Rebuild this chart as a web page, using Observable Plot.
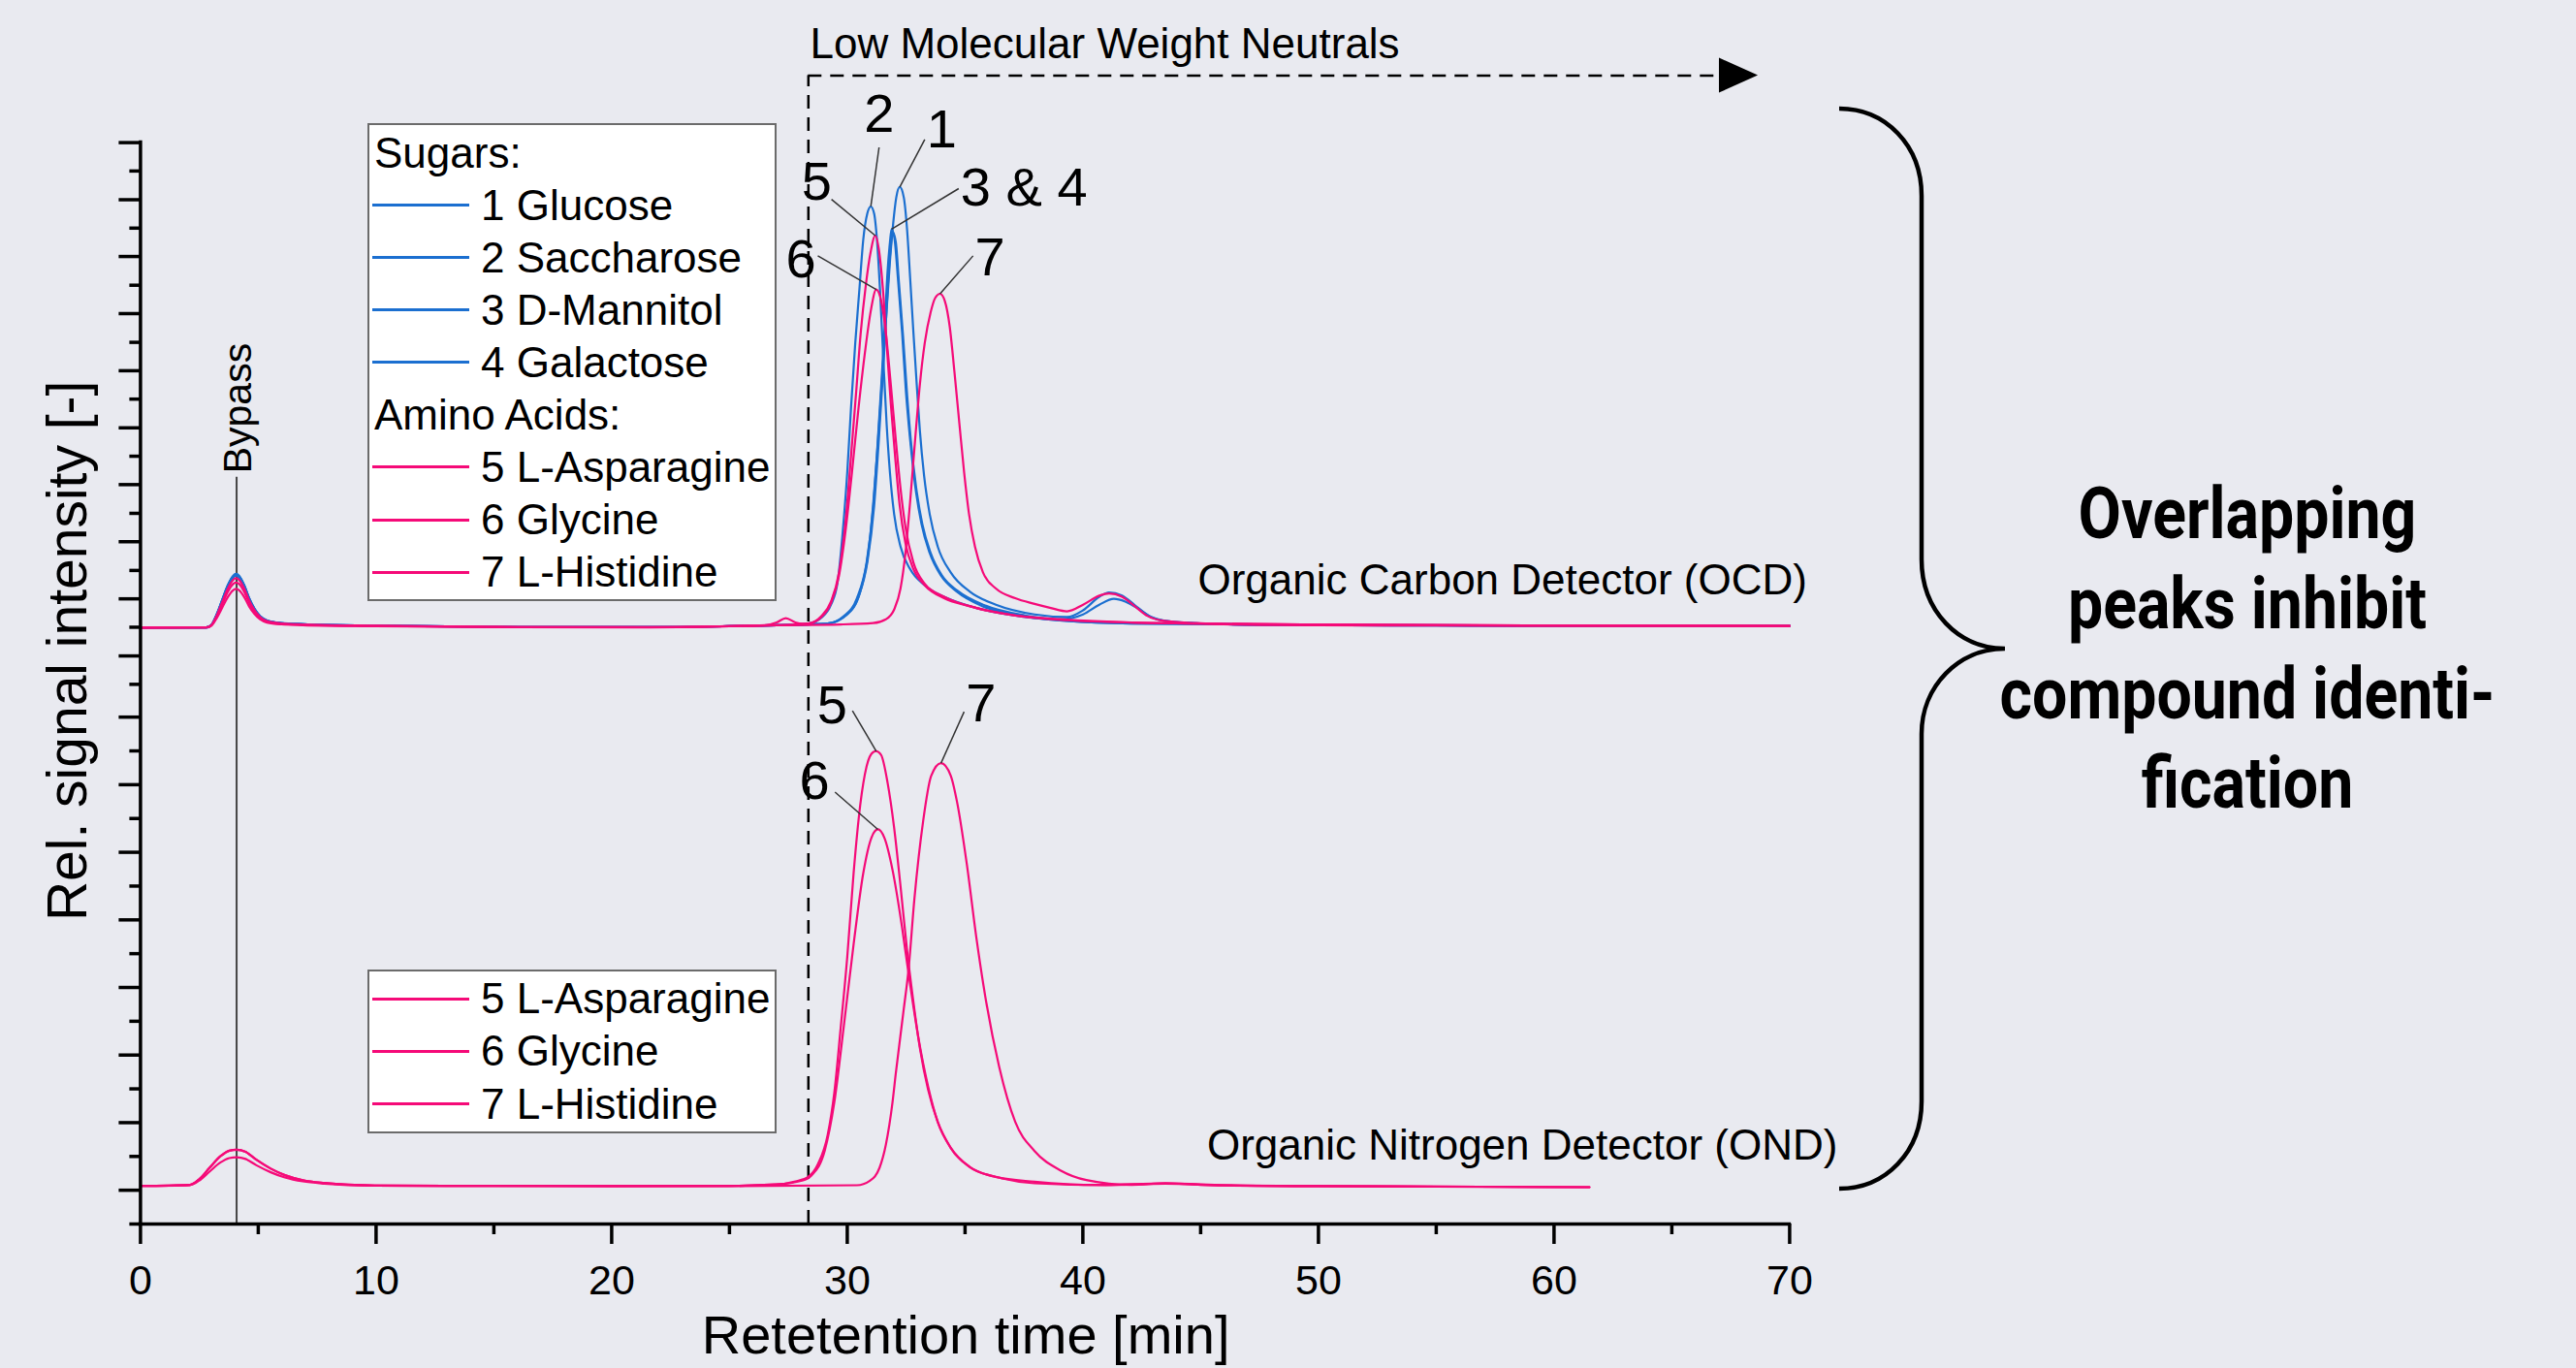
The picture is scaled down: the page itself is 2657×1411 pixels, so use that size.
<!DOCTYPE html>
<html>
<head>
<meta charset="utf-8">
<script src="https://cdn.jsdelivr.net/npm/d3@7"></script>
<script src="https://cdn.jsdelivr.net/npm/@observablehq/plot@0.6"></script>
<style>
html, body { margin: 0; padding: 0; background: #e9eaf0; overflow: hidden; }
#wrap { position: relative; width: 2657px; height: 1411px; font-family: "Liberation Sans", Arial, sans-serif; }
#wrap > svg { position: absolute; left: 0; top: 0; }
.legend { position: absolute; background: #fff; border: 2px solid #6b6b6b; box-sizing: border-box; }
.row { position: absolute; height: 54px; line-height: 54px; font-size: 44px; color: #000; white-space: nowrap; }
.swatch { position: absolute; width: 100px; height: 3px; }
#note { position: absolute; left: 2018px; width: 600px; top: 484px; text-align: center;
  font-family: Roboto, "Noto Sans", sans-serif; font-weight: 700; font-size: 74px; line-height: 92.8px;
  color: #000; transform: scaleX(0.87); transform-origin: 300px 0; }
</style>
</head>
<body>
<div id="wrap"></div>
<script>
// ---------- data (retention time [min], relative signal) ----------
const sugarColor = "#1b6fd0";
const aminoColor = "#f50a78";

const ocdGlucose = [[0,17.645],[2.79,17.653],[3.01,17.727],[3.24,18.046],[3.47,18.471],[3.70,18.895],[3.93,19.182],[4.05,19.237],[4.19,19.182],[4.41,18.895],[4.61,18.525],[4.84,18.207],[5.07,17.994],[5.37,17.857],[5.98,17.782],[6.89,17.750],[9.94,17.708],[16.03,17.665],[21.63,17.66],[25,17.69],[27,17.72],[29.17,17.771],[30.00,18.039],[30.55,18.708],[30.89,19.856],[31.10,21.291],[31.26,22.726],[31.40,24.160],[31.53,25.595],[31.67,27.030],[31.81,28.465],[31.95,29.612],[32.08,30.378],[32.23,30.684],[32.40,30.378],[32.54,29.421],[32.67,27.986],[32.81,26.360],[32.95,24.830],[33.08,23.491],[33.26,22.152],[33.50,21.004],[33.84,20.048],[34.39,19.283],[35.21,18.708],[36.31,18.326],[37.95,18.039],[39.33,17.962],[40.01,18.16],[40.70,18.56],[41.11,18.69],[41.66,18.60],[42.21,18.31],[42.75,18.02],[43.44,17.86],[44.81,17.78],[47.56,17.73],[55,17.71],[62,17.70],[70,17.70]];
const ocdSaccharose = [[0,17.645],[2.79,17.653],[3.01,17.725],[3.24,18.038],[3.47,18.455],[3.70,18.870],[3.93,19.151],[4.05,19.205],[4.19,19.151],[4.41,18.870],[4.61,18.508],[4.84,18.196],[5.07,17.987],[5.37,17.853],[5.98,17.779],[6.89,17.748],[9.94,17.707],[16.03,17.665],[21.63,17.66],[25,17.69],[27,17.72],[28.35,17.771],[28.90,17.943],[29.31,18.326],[29.59,18.995],[29.79,20.334],[30.00,22.248],[30.16,24.160],[30.34,26.073],[30.52,27.699],[30.68,29.134],[30.85,29.899],[31.00,30.110],[31.14,29.899],[31.26,29.134],[31.40,27.508],[31.53,25.595],[31.67,23.682],[31.81,22.248],[31.99,21.004],[32.26,20.048],[32.67,19.378],[33.29,18.900],[34.25,18.517],[35.48,18.230],[37.27,17.991],[39.33,17.848],[42.07,17.771],[50,17.73],[60,17.71],[70,17.70]];
const ocdMannitol = [[0,17.645],[2.79,17.653],[3.01,17.725],[3.24,18.034],[3.47,18.446],[3.70,18.858],[3.93,19.136],[4.05,19.189],[4.19,19.136],[4.41,18.858],[4.61,18.499],[4.84,18.190],[5.07,17.984],[5.37,17.851],[5.98,17.778],[6.89,17.747],[9.94,17.706],[16.03,17.665],[21.63,17.66],[25,17.69],[27,17.72],[29.17,17.771],[29.86,17.991],[30.41,18.517],[30.82,19.569],[31.10,21.195],[31.30,23.204],[31.47,25.117],[31.60,26.743],[31.71,28.178],[31.81,29.038],[31.88,29.440],[32.01,29.134],[32.15,27.986],[32.33,26.360],[32.49,24.639],[32.67,23.204],[32.88,21.865],[33.15,20.717],[33.50,19.856],[33.98,19.187],[34.66,18.708],[35.76,18.278],[37.41,17.991],[39.33,17.848],[42.07,17.771],[50,17.73],[60,17.71],[70,17.70]];
const ocdGalactose = [[0,17.645],[2.79,17.653],[3.01,17.726],[3.24,18.042],[3.47,18.463],[3.70,18.883],[3.93,19.167],[4.05,19.221],[4.19,19.167],[4.41,18.883],[4.61,18.516],[4.84,18.201],[5.07,17.991],[5.37,17.855],[5.98,17.781],[6.89,17.749],[9.94,17.707],[16.03,17.665],[21.63,17.66],[25,17.69],[27,17.72],[29.17,17.771],[29.93,18.010],[30.48,18.565],[30.86,19.617],[31.14,21.243],[31.34,23.204],[31.51,25.117],[31.64,26.695],[31.75,28.082],[31.85,28.943],[31.92,29.364],[32.06,29.058],[32.19,27.891],[32.37,26.265],[32.54,24.543],[32.71,23.108],[32.92,21.817],[33.19,20.698],[33.54,19.856],[34.02,19.187],[34.70,18.728],[35.83,18.307],[37.54,18.010],[39.05,17.896],[40.01,18.04],[40.70,18.327],[41.32,18.50],[41.80,18.42],[42.35,18.21],[42.89,17.96],[43.44,17.85],[44.81,17.78],[47.56,17.73],[55,17.71],[62,17.70],[70,17.70]];
const ocdAsparagine = [[0,17.645],[2.79,17.653],[3.01,17.721],[3.24,18.014],[3.47,18.405],[3.70,18.795],[3.93,19.059],[4.05,19.110],[4.19,19.059],[4.41,18.795],[4.61,18.455],[4.84,18.162],[5.07,17.966],[5.37,17.840],[5.98,17.771],[6.89,17.742],[9.94,17.703],[16.03,17.664],[21.63,17.66],[25,17.69],[26.5,17.72],[27.0,17.80],[27.39,17.93],[27.8,17.80],[28.1,17.76],[28.35,17.771],[28.90,17.991],[29.31,18.422],[29.65,19.283],[29.93,20.813],[30.16,22.726],[30.38,24.639],[30.57,26.360],[30.79,27.795],[30.99,28.752],[31.19,29.249],[31.34,28.847],[31.51,27.699],[31.67,26.073],[31.85,24.256],[32.03,22.726],[32.22,21.291],[32.47,20.143],[32.81,19.378],[33.29,18.900],[34.11,18.517],[35.21,18.278],[36.86,18.039],[39.05,17.896],[42.07,17.800],[50,17.74],[60,17.71],[70,17.70]];
const ocdGlycine = [[0,17.645],[2.79,17.653],[3.01,17.715],[3.24,17.983],[3.47,18.340],[3.70,18.696],[3.93,18.937],[4.05,18.983],[4.19,18.937],[4.41,18.696],[4.61,18.385],[4.84,18.118],[5.07,17.939],[5.37,17.824],[5.98,17.761],[6.89,17.734],[9.94,17.699],[16.03,17.663],[21.63,17.66],[25,17.69],[27,17.72],[28.35,17.771],[28.90,17.962],[29.31,18.374],[29.65,19.187],[29.93,20.526],[30.20,22.248],[30.48,24.160],[30.75,25.786],[31.00,27.030],[31.23,27.652],[31.44,27.317],[31.64,26.360],[31.85,24.830],[32.06,23.204],[32.26,21.769],[32.47,20.622],[32.81,19.569],[33.29,18.948],[34.11,18.565],[35.48,18.230],[37.27,17.991],[39.33,17.867],[42.07,17.800],[50,17.74],[60,17.71],[70,17.70]];
const ocdHistidine = [[0,17.645],[2.79,17.652],[3.01,17.705],[3.24,17.935],[3.47,18.241],[3.70,18.546],[3.93,18.753],[4.05,18.793],[4.19,18.753],[4.41,18.546],[4.61,18.280],[4.84,18.051],[5.07,17.898],[5.37,17.799],[5.98,17.745],[6.89,17.722],[9.94,17.692],[16.03,17.661],[21.63,17.657],[25,17.69],[27,17.72],[29.72,17.742],[31.10,17.781],[31.64,17.896],[31.99,18.183],[32.26,18.804],[32.47,19.856],[32.67,21.387],[32.88,23.204],[33.08,24.830],[33.29,26.073],[33.54,26.982],[33.74,27.412],[33.94,27.527],[34.14,27.317],[34.35,26.552],[34.55,25.213],[34.76,23.682],[34.96,22.248],[35.17,21.004],[35.42,20.048],[35.76,19.283],[36.31,18.804],[37.13,18.517],[37.95,18.35],[38.64,18.23],[39.33,18.13],[40.01,18.327],[40.70,18.594],[41.11,18.66],[41.66,18.565],[42.21,18.278],[42.75,17.991],[43.44,17.848],[44.81,17.782],[47.56,17.724],[55,17.71],[62,17.70],[70,17.70]];

const ondAsparagine = [[0,1.128],[2.10,1.159],[2.48,1.319],[2.94,1.670],[3.40,2.009],[3.77,2.169],[4.08,2.201],[4.46,2.137],[4.92,1.902],[5.53,1.638],[6.13,1.446],[6.89,1.297],[7.81,1.214],[9.94,1.139],[12.98,1.128],[20,1.125],[25,1.13],[26.98,1.17],[27.80,1.26],[28.35,1.40],[28.76,1.779],[29.17,2.64],[29.45,3.883],[29.72,5.796],[30.00,7.90],[30.27,10.387],[30.55,12.396],[30.82,13.543],[31.10,13.964],[31.23,13.993],[31.44,13.878],[31.71,13.065],[31.99,11.726],[32.26,10.004],[32.54,8.091],[32.81,6.561],[33.08,5.222],[33.43,3.979],[33.84,3.022],[34.39,2.257],[35.21,1.683],[36.31,1.396],[37.95,1.253],[40.70,1.157],[43.5,1.20],[46,1.15],[50,1.12],[55,1.11],[61.5,1.09]];
const ondGlycine = [[0,1.128],[2.10,1.152],[2.48,1.279],[2.94,1.556],[3.40,1.824],[3.77,1.950],[4.08,1.976],[4.46,1.925],[4.92,1.739],[5.53,1.531],[6.13,1.379],[6.89,1.262],[7.81,1.196],[9.94,1.137],[12.98,1.128],[20,1.125],[25,1.13],[26.98,1.17],[28.08,1.282],[28.49,1.444],[29.04,2.161],[29.45,3.596],[29.86,5.891],[30.27,8.283],[30.68,10.387],[31.03,11.439],[31.30,11.678],[31.58,11.420],[31.92,10.483],[32.33,8.761],[32.60,7.422],[33.02,5.509],[33.43,4.074],[33.84,3.022],[34.39,2.257],[35.21,1.683],[36.58,1.348],[37.95,1.205],[41,1.15],[43.5,1.19],[46,1.14],[50,1.12],[55,1.11],[61.5,1.09]];
const ondHistidine = [[0,1.128],[2.10,1.159],[2.48,1.319],[2.94,1.670],[3.40,2.009],[3.77,2.169],[4.08,2.201],[4.46,2.137],[4.92,1.902],[5.53,1.638],[6.13,1.446],[6.89,1.297],[7.81,1.214],[9.94,1.139],[12.98,1.128],[20,1.125],[25,1.12],[30.41,1.148],[30.96,1.282],[31.37,1.664],[31.64,2.353],[31.92,3.596],[32.06,4.457],[32.40,6.370],[32.60,7.518],[32.85,9.622],[33.22,11.917],[33.56,13.256],[33.98,13.639],[34.39,13.275],[34.66,12.491],[35.07,10.674],[35.48,8.474],[35.90,6.561],[36.45,4.648],[37.13,3.022],[37.95,2.161],[39.05,1.587],[40.15,1.300],[42.07,1.157],[43.5,1.21],[45,1.16],[50,1.12],[55,1.105],[61.5,1.09]];

const ocdSeries = [
  {name: "1 Glucose", group: "sugar", pts: ocdGlucose},
  {name: "2 Saccharose", group: "sugar", pts: ocdSaccharose},
  {name: "3 D-Mannitol", group: "sugar", pts: ocdMannitol},
  {name: "4 Galactose", group: "sugar", pts: ocdGalactose},
  {name: "5 L-Asparagine", group: "amino", pts: ocdAsparagine},
  {name: "6 Glycine", group: "amino", pts: ocdGlycine},
  {name: "7 L-Histidine", group: "amino", pts: ocdHistidine}
];
const ondSeries = [
  {name: "5 L-Asparagine", group: "amino", pts: ondAsparagine},
  {name: "6 Glycine", group: "amino", pts: ondGlycine},
  {name: "7 L-Histidine", group: "amino", pts: ondHistidine}
];

// peak labels: label text, label position, leader start, series whose peak the leader points to
const peakLabels = [
  {label: "2", lx: 31.35, ly: 32.82, sx: 31.35, sy: 31.86, series: ocdSaccharose},
  {label: "1", lx: 34.01, ly: 32.37, sx: 33.29, sy: 32.09, series: ocdGlucose},
  {label: "5", lx: 28.70, ly: 30.83, sx: 29.33, sy: 30.32, series: ocdAsparagine},
  {label: "3 & 4", lx: 37.50, ly: 30.66, sx: 34.73, sy: 30.64, series: ocdMannitol},
  {label: "6", lx: 28.03, ly: 28.53, sx: 28.75, sy: 28.65, series: ocdGlycine},
  {label: "7", lx: 36.06, ly: 28.60, sx: 35.34, sy: 28.65, series: ocdHistidine},
  {label: "5", lx: 29.36, ly: 15.33, sx: 30.22, sy: 15.19, series: ondAsparagine},
  {label: "6", lx: 28.61, ly: 13.10, sx: 29.48, sy: 12.78, series: ondGlycine},
  {label: "7", lx: 35.68, ly: 15.40, sx: 34.96, sy: 15.16, series: ondHistidine}
];

const xMajorTicks = [0, 10, 20, 30, 40, 50, 60, 70];
const xMinorTicks = [5, 15, 25, 35, 45, 55, 65];
const yMajorTicks = [1, 3, 5, 7, 9, 11, 13, 15, 16.81, 18.5, 20.19, 21.88, 23.56, 25.25, 26.94, 28.63, 30.31, 32];
const yMinorTicks = [0, 2, 4, 6, 8, 10, 12, 14, 15.97, 17.66, 19.34, 21.03, 22.72, 24.41, 26.09, 27.78, 29.47, 31.16];

const bypass = [{t: 4.08, top: 22.1, label: "Bypass", lx: 4.68, ly: 24.14}];
const lmwn = [{t: 28.35, y: 33.98, end: 67.3, label: "Low Molecular Weight Neutrals", lx: 28.42, ly: 34.49}];
const arrowHead = [{t: 67.02, lo: 33.464, hi: 34.496}, {t: 68.67, lo: 33.98, hi: 33.98}];
const detectorLabels = [
  {label: "Organic Carbon Detector (OCD)", x: 44.88, y: 18.62},
  {label: "Organic Nitrogen Detector (OND)", x: 45.27, y: 1.92}
];
const axisTitles = [
  {label: "Retetention time [min]", x: 35.03, y: -3.84, rotate: 0, size: 56},
  {label: "Rel. signal intensity [-]", x: -2.28, y: 16.96, rotate: -90, size: 57}
];

// ---------- build ----------
const toRows = (list, detector) => list.flatMap(s => s.pts.map(([t, v]) => ({name: s.name, group: s.group, detector, t, v})));
const ocdRows = toRows(ocdSeries, "OCD");
const ondRows = toRows(ondSeries, "OND");

const links = peakLabels.map(d => {
  const p = d3.greatest(d.series.filter(q => q[0] > 20), q => q[1]);
  return {...d, px: p[0], py: p[1]};
});

const lineOpts = {x: "t", y: "v", z: "name", strokeWidth: 2.2, curve: "monotone-x"};

const plot = Plot.plot({
  width: 2657,
  height: 1411,
  marginLeft: 144.4,
  marginRight: 811.6,
  marginTop: 146.6,
  marginBottom: 149,
  x: {domain: [0, 70]},
  y: {domain: [0, 32]},
  style: {background: "transparent", fontFamily: "'Liberation Sans', Arial, sans-serif", color: "#000", overflow: "visible"},
  marks: [
    // annotations behind curves
    Plot.ruleX(bypass, {x: "t", y1: 0, y2: "top", stroke: "#444", strokeWidth: 2}),
    Plot.ruleX(lmwn, {x: "t", y1: 0, y2: "y", stroke: "#000", strokeWidth: 2.5, strokeDasharray: "14,9"}),
    Plot.ruleY(lmwn, {y: "y", x1: "t", x2: "end", stroke: "#000", strokeWidth: 2.5, strokeDasharray: "14,9"}),
    Plot.areaY(arrowHead, {x: "t", y1: "lo", y2: "hi", fill: "#000", curve: "linear"}),
    // curves
    Plot.line(ocdRows.filter(d => d.group === "sugar"), {...lineOpts, stroke: sugarColor}),
    Plot.line(ocdRows.filter(d => d.group === "amino"), {...lineOpts, stroke: aminoColor}),
    Plot.line(ondRows, {...lineOpts, stroke: aminoColor}),
    // peak labels
    Plot.link(links, {x1: "sx", y1: "sy", x2: "px", y2: "py", stroke: "#333", strokeWidth: 1.5}),
    Plot.text(links, {x: "lx", y: "ly", text: "label", fontSize: 56, lineAnchor: "middle", fill: "#000"}),
    // text annotations
    Plot.text(bypass, {x: "lx", y: "ly", text: "label", rotate: -90, fontSize: 41, lineAnchor: "bottom", fill: "#000"}),
    Plot.text(lmwn, {x: "lx", y: "ly", text: "label", textAnchor: "start", fontSize: 44, lineAnchor: "bottom", fill: "#000"}),
    Plot.text(detectorLabels, {x: "x", y: "y", text: "label", textAnchor: "start", fontSize: 44, lineAnchor: "bottom", fill: "#000"}),
    Plot.text(axisTitles, {x: "x", y: "y", text: "label", rotate: "rotate", fontSize: d => d.size, lineAnchor: "bottom", fill: "#000"}),
    // axes
    Plot.axisX(xMajorTicks, {tickSize: 21, tickPadding: 21, fontSize: 43, strokeWidth: 3.5, label: null, tickFormat: d => String(d)}),
    Plot.axisX(xMinorTicks, {tickSize: 11, strokeWidth: 3.5, fill: "none", label: null}),
    Plot.axisY(yMajorTicks, {tickSize: 22, strokeWidth: 3.5, fill: "none", label: null}),
    Plot.axisY(yMinorTicks, {tickSize: 11, strokeWidth: 3.5, fill: "none", label: null}),
    Plot.ruleX([0], {stroke: "#000", strokeWidth: 3.5, strokeLinecap: "square"}),
    Plot.ruleY([0], {stroke: "#000", strokeWidth: 3.5, strokeLinecap: "square"})
  ]
});

const wrap = document.getElementById("wrap");
wrap.appendChild(plot);

// ---------- legends ----------
function addBox(left, top, width, height) {
  const b = document.createElement("div");
  b.className = "legend";
  Object.assign(b.style, {left: left + "px", top: top + "px", width: width + "px", height: height + "px"});
  wrap.appendChild(b);
}
function addRow(text, cy, color) {
  const r = document.createElement("div");
  r.className = "row";
  r.style.left = (color ? 496 : 386) + "px";
  r.style.top = Math.round(cy - 27) + "px";
  r.textContent = text;
  wrap.appendChild(r);
  if (color) {
    const s = document.createElement("div");
    s.className = "swatch";
    s.style.left = "384px";
    s.style.top = Math.round(cy - 1.5) + "px";
    s.style.background = color;
    wrap.appendChild(s);
  }
}
addBox(378.5, 127, 422.5, 493);
const legendTop = [
  {text: "Sugars:"},
  ...ocdSeries.filter(s => s.group === "sugar").map(s => ({text: s.name, color: sugarColor})),
  {text: "Amino Acids:"},
  ...ocdSeries.filter(s => s.group === "amino").map(s => ({text: s.name, color: aminoColor}))
];
legendTop.forEach((d, i) => addRow(d.text, 157.8 + i * 54.03, d.color));

addBox(378.5, 999.6, 422.5, 169.4);
ondSeries.forEach((s, i) => addRow(s.name, 1030 + i * 54.35, aminoColor));

// ---------- brace + note ----------
const ns = "http://www.w3.org/2000/svg";
const braceSvg = document.createElementNS(ns, "svg");
braceSvg.setAttribute("width", 2657);
braceSvg.setAttribute("height", 1411);
braceSvg.style.pointerEvents = "none";
const path = document.createElementNS(ns, "path");
path.setAttribute("d", "M1897,112 C1945,112 1982,150 1982,202 L1982,577 C1982,630 2020,669 2068,669 C2020,669 1982,708 1982,757 L1982,1136 C1982,1188 1945,1226 1897,1226");
path.setAttribute("fill", "none");
path.setAttribute("stroke", "#000");
path.setAttribute("stroke-width", "4.5");
braceSvg.appendChild(path);
wrap.appendChild(braceSvg);

const note = document.createElement("div");
note.id = "note";
note.innerHTML = "Overlapping<br>peaks inhibit<br>compound identi-<br>fication";
wrap.appendChild(note);
</script>
</body>
</html>
